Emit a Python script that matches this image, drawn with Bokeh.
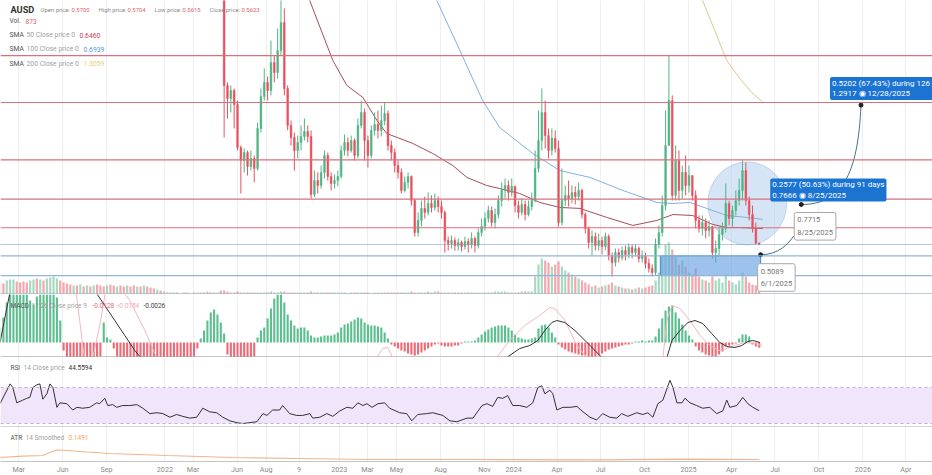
import pandas as pd
from bokeh.plotting import figure
from bokeh.layouts import column
from bokeh.models import (Range1d, FixedTicker, Span, Label, Grid, BoxAnnotation,
                          LinearAxis, CustomJSTickFormatter)
from bokeh.embed import file_html
from bokeh.resources import INLINE

FONT = "Roboto"

# ---------------------------------------------------------------- data
first_week = "2022-05-05"          # first weekly candle inside the visible price range
first_open = 2.40
closes = [1.394,1.326,1.368,1.294,1.070,1.002,1.043,0.970,1.012,0.960,
          1.169,1.336,1.410,1.368,1.514,1.462,1.577,1.723,1.378,1.185,
          1.122,1.054,1.096,1.127,1.153,1.127,0.824,0.897,0.871,0.939,
          1.028,0.918,0.881,0.897,0.918,1.054,1.096,1.054,1.106,1.028,
          1.185,1.253,1.106,1.028,1.159,1.190,1.159,1.211,1.247,1.080,
          1.043,0.975,0.939,0.845,0.887,0.918,0.792,0.625,0.688,0.751,
          0.730,0.777,0.756,0.792,0.761,0.730,0.583,0.568,0.583,0.557,
          0.573,0.552,0.578,0.562,0.594,0.557,0.625,0.656,0.698,0.740,
          0.677,0.719,0.792,0.845,0.871,0.834,0.866,0.766,0.730,0.772,
          0.719,0.761,0.792,0.960,1.106,1.253,1.132,1.054,1.117,1.064,
          0.677,0.792,0.819,0.803,0.834,0.813,0.845,0.719,0.646,0.573,
          0.604,0.557,0.583,0.552,0.604,0.505,0.468,0.520,0.494,0.531,
          0.510,0.547,0.520,0.541,0.489,0.505,0.463,0.437,0.416,0.562,
          0.625,0.766,1.080,1.315,0.819,1.002,0.845,0.939,0.871,0.923,
          0.819,0.688,0.646,0.677,0.636,0.656,0.520,0.541,0.615,0.646,
          0.777,0.698,0.740,0.792,0.845,0.949,0.792,0.719,0.646,0.570,
          0.5623]
highs = [2.55,1.410,1.394,1.378,1.315,1.080,1.064,1.054,1.054,1.028,
         1.200,1.378,1.483,1.441,1.629,1.551,1.692,1.865,1.797,1.394,
         1.211,1.148,1.132,1.185,1.221,1.185,1.159,0.949,0.939,0.975,
         1.054,1.043,0.939,0.928,0.949,1.080,1.138,1.122,1.132,1.117,
         1.221,1.315,1.274,1.132,1.185,1.253,1.263,1.289,1.305,1.263,
         1.106,1.064,1.002,0.960,0.918,0.939,0.923,0.803,0.730,0.792,
         0.813,0.834,0.819,0.829,0.813,0.792,0.740,0.604,0.609,0.599,
         0.594,0.583,0.604,0.594,0.625,0.604,0.646,0.698,0.730,0.766,
         0.761,0.751,0.819,0.887,0.907,0.897,0.907,0.871,0.792,0.803,
         0.792,0.792,0.834,1.054,1.263,1.378,1.315,1.169,1.169,1.159,
         1.106,0.960,0.871,0.897,0.871,0.866,0.887,0.855,0.730,0.656,
         0.636,0.625,0.620,0.604,0.625,0.615,0.520,0.541,0.541,0.552,
         0.557,0.568,0.562,0.562,0.552,0.531,0.520,0.489,0.458,0.594,
         0.662,0.819,1.263,1.551,1.342,1.080,1.054,0.975,1.028,0.975,
         0.923,0.845,0.714,0.714,0.698,0.688,0.660,0.583,0.646,0.677,
         0.881,0.792,0.766,0.845,0.907,1.002,0.991,0.813,0.766,0.677,
         0.5704]
lows = [1.122,1.221,1.253,1.169,1.054,0.829,0.939,0.923,0.949,0.887,
        0.949,1.148,1.315,1.315,1.342,1.410,1.430,1.551,1.342,1.159,
        1.080,0.949,1.012,1.054,1.106,1.096,0.803,0.810,0.829,0.855,
        0.907,0.897,0.845,0.855,0.866,0.907,1.028,1.023,1.043,1.002,
        1.012,1.169,1.002,0.965,1.012,1.132,1.117,1.127,1.185,1.054,
        1.002,0.939,0.907,0.829,0.834,0.855,0.766,0.604,0.604,0.656,
        0.698,0.714,0.730,0.740,0.730,0.698,0.520,0.531,0.541,0.531,
        0.531,0.526,0.536,0.520,0.541,0.520,0.541,0.604,0.636,0.677,
        0.656,0.646,0.698,0.761,0.803,0.792,0.813,0.730,0.698,0.714,
        0.688,0.709,0.740,0.782,0.939,1.054,1.064,1.012,1.028,1.043,
        0.656,0.662,0.766,0.761,0.777,0.772,0.792,0.698,0.620,0.541,
        0.505,0.531,0.531,0.510,0.531,0.479,0.395,0.447,0.468,0.479,
        0.479,0.489,0.489,0.499,0.468,0.468,0.437,0.416,0.395,0.400,
        0.541,0.604,0.740,1.080,0.792,0.792,0.792,0.803,0.819,0.834,
        0.792,0.646,0.625,0.609,0.594,0.604,0.489,0.468,0.505,0.583,
        0.625,0.662,0.656,0.714,0.766,0.792,0.766,0.688,0.625,0.562,
        0.5615]

vol_start = "2021-01-21"           # first weekly bar of volume / indicators
vol_pre = [1200,1100,1400,1500,1500,1300,1200,1300,1200,1400,1500,1600,1500,1400,1600,1700,1800,1600,
           1400,1200,1100,1000,900,900,1000,800,900,800,900,1000,
           900,800,900,1000,900,800,900,800,900,800,900,800,800,900,800,700,600,500,400,
           300,200,200,200,200,100,200,200,100,200,200,200,200,300,200,200,200,400]
vol_pre_up = [0,0,1,1,1,0,0,0,0,1,1,0,1,0,1,1,1,1,
              0,0,0,0,1,0,1,0,1,0,1,0,
              0,0,1,0,0,1,0,0,1,0,0,1,0,1,0,0,0,1,0,
              1,0,0,1,0,1,0,0,1,0,1,0,0,1,0,0,1,0]
volumes = [400,300,200,200,300,200,200,200,200,200,200,
           200,200,200,300,200,200,300,300,200,200,200,200,200,200,200,300,200,200,200,200,
           200,200,200,200,200,200,100,200,200,200,200,200,200,100,200,200,200,200,200,200,
           200,200,200,200,200,300,200,200,200,200,
           300,200,300,300,200,200,200,200,200,200,
           200,200,200,200,200,200,200,200,200,200,
           300,300,300,300,200,200,200,200,300,300,
           300,300,
           1800,3000,3600,3400,3200,2800,3000,3300,2800,2400,2200,2000,1800,1600,1400,1200,1000,800,900,700,
           800,900,1000,1200,900,800,700,600,600,500,600,700,600,700,800,900,1400,2200,3800,5000,
           5200,4500,3800,3000,3400,2800,2200,2000,2600,1800,1500,1400,1200,1800,1400,1600,1200,2000,1400,1200,
           1000,1400,2200,1800,1200,1000,900,873]

macd_hist = [0.0075,0.0125,0.020,0.024,0.025,0.025,0.025,0.025,0.025,0.021,0.019,0.023,
             0.025,0.025,0.025,0.025,0.025,0.0225,0.011,-0.004,-0.008,
             -0.010,-0.010,-0.010,-0.010,-0.010,-0.010,-0.010,-0.010,-0.010,-0.007,
             0.010,0.0025,0.0015,-0.003,-0.007,
             -0.010,-0.010,-0.010,-0.010,-0.010,-0.010,-0.010,-0.010,-0.010,-0.010,-0.010,
             -0.010,-0.010,-0.010,-0.010,-0.010,-0.010,-0.010,-0.010,-0.010,-0.010,-0.010,
             -0.007,-0.003,
             0.002,0.006,0.011,0.015,0.0165,0.014,0.010,0.0045,
             -0.006,-0.010,-0.010,-0.010,-0.010,-0.010,-0.010,-0.010,-0.007,
             0.0025,0.006,
             0.0075,0.012,0.017,0.022,0.025,0.025,0.020,0.014,0.011,0.0085,0.007,
             0.0075,0.0075,0.006,
             0.0035,0.0025,0.0025,0.003,0.0035,0.0035,0.0035,0.004,
             0.005,0.0075,0.009,0.0095,0.0105,0.0115,0.0125,0.012,0.010,0.009,0.0085,0.0085,0.008,0.0075,0.005,0.002,
             -0.001,-0.002,-0.003,-0.004,-0.0045,-0.0055,-0.006,-0.0065,-0.006,-0.005,-0.004,-0.003,-0.002,-0.001,
             -0.0005,-0.0015,-0.002,-0.002,-0.002,-0.0015,-0.0015,-0.0005,
             0.0005,0.0005,0.0005,0.001,
             0.0025,0.004,0.0055,0.0065,0.0075,0.008,0.0085,0.0085,0.0085,0.0075,0.006,0.004,0.0025,
             0.002,0.0015,0.0015,0.002,0.0025,
             0.007,0.0085,0.009,0.0075,0.005,0.0025,
             -0.001,-0.0025,-0.0035,-0.0045,-0.005,-0.0055,-0.006,-0.0065,-0.0065,-0.007,-0.0075,-0.007,
             -0.0065,-0.0055,-0.0045,-0.0035,-0.003,-0.0025,-0.002,-0.0015,-0.001,-0.001,-0.0005,
             0.0005,0.0005,0.001,0.0005,0.001,0.001,
             0.003,0.007,0.012,0.016,0.018,0.0185,0.015,0.012,0.009,0.006,0.0035,0.0015,
             -0.002,-0.004,-0.005,-0.006,-0.0065,-0.007,-0.007,-0.006,-0.0045,
             -0.002,-0.0015,-0.001,-0.0005,
             0.002,0.004,0.004,0.003,
             -0.001,-0.002,-0.0026]

# series sampled at week offsets counted from vol_start
macd_w = [0,1.4,2.9,5.9,14.9,23.8,28.9,31.3,34.3,37.3,40.3,43.3,59.7,89.6,125.5,143.5,151.5,155.4,
          158.4,160.8,162.9,165,166.5,168.9,171.9,174.9,177.9,180.2,188.3,195.8,199.4,200.9,203.3,
          205.7,207.8,210.1,212.8,215.2,217.3,219.7,221.8,223.6,225.1,227.2]
macd_v = [0,0.012,0.0245,0.041,0.056,0.041,0.0245,0.0185,0.011,0.0035,-0.004,-0.010,-0.024,-0.039,
          -0.029,-0.019,-0.0075,-0.003,-0.0015,0.001,0.006,0.010,0.011,0.010,0.006,0.001,-0.004,-0.008,
          -0.0165,-0.014,-0.0075,0.001,0.006,0.010,0.011,0.0095,0.0045,0,-0.002,-0.0025,-0.0015,0.0005,
          0.001,0]
signal_w = [17.9,22.3,23.8,25.3,27.4,29.8,31.6,34.3,38.8,43.3,47.8,74.7,110.6,112.6,114.4,115.9,117.4,
            122.5,140.5,148.5,152.4,156.9,161.4,164.4,165.9,168.9,172.5,175.4,185.3,194.3,198.2,199.4,
            200.9,203.3,206.3,209.3,212.2,215.2,217.3,219.7,222.7,225.7,227.8]
signal_v = [0.046,0.031,0.011,-0.009,-0.010,0.0085,0.026,0.031,0.021,0.006,-0.0115,-0.029,-0.014,
            -0.0075,-0.003,-0.0025,-0.0075,-0.0165,-0.0165,-0.0075,0.001,0.0085,0.0135,0.0175,0.017,
            0.011,-0.0015,-0.0075,-0.019,-0.015,-0.0075,0.011,0.0185,0.017,0.011,0.0035,-0.0015,-0.004,
            -0.003,-0.0015,0,-0.0005,-0.0015]

rsi_w = [0,3,3.8,5,6.8,8,8.9,9.8,11,11.9,12.8,14,14.9,15.8,17,17.9,20,21.7,23,24.7,26.8,28.9,29.8,
         31.3,32.2,33.7,34.9,36.7,38.8,40.9,42.7,44.8,46.9,48.7,50.8,52.8,54.6,56.7,58.8,60.6,62.7,
         64.8,66.6,68.7,70.8,72.6,74.7,76.8,78.6,79.8,81.5,83.6,84.5,86.6,88.7,90.5,92.6,93.5,95.6,
         97.7,99.5,101.6,103.7,105.5,107,108.5,109.7,111.2,113,115,116.5,119.5,121.6,123.1,124.9,
         127.6,129.4,132.4,134.5,136.6,139.6,141.4,144.1,145.6,147.3,148.8,150.3,151.8,153.3,155.4,
         157.5,159.3,160.8,162,162.9,164.4,165.3,166.5,168.3,170.4,172.5,174.3,176.4,178.4,180.2,
         182.3,184.4,185.9,187.7,190.4,192.2,193.7,195.2,196.7,198.2,200.3,201.2,202.4,203.9,204.8,
         206.3,208.3,210.1,212.2,214.3,216.1,217.3,218.2,220.3,222.1,223.6,225.1,226.6,227]
rsi_v = [52,74,70,53,56,58,59,70,73,74,57,63,74,70,48,53,52,45,48,47,48,53,52,58,50,51,48,50,50,51,
         47,41,42,41,37,40,38,36,37,47,43,42,37,33,31,30,31,32,41,39,45,45,50,41,39,39,41,36,37,41,
         38,44,48,47,53,50,52,48,52,53,47,42,41,33,40,41,42,39,33,32,36,36,50,52,49,59,58,61,50,50,
         48,53,70,72,63,67,63,45,48,48,49,43,37,34,41,37,36,41,38,42,40,42,37,52,56,78,70,53,53,58,
         53,50,47,48,41,44,56,48,50,59,52,48,45,44.56]

atr_w = [0,6.8,12.8,14.9,17,20,26,32.8,49.9,69.6,89.6,109.7,139.6,179.3,203.3,227]
atr_v = [0.298,0.40,0.447,0.67,0.857,0.82,0.708,0.596,0.447,0.298,0.224,0.149,0.149,0.127,0.171,0.1491]

sma50_w = [89.6,92.6,99.5,103.7,108.5,112.7,115.6,123.4,129.4,135.4,139.6,145.5,149.4,155.4,161.4,
           167.4,173.4,181.4,189.2,196.4,201.2,207.1,213.1,217.3,221.2,228.1]
sma50_v = [1.943,1.838,1.525,1.394,1.331,1.211,1.143,1.091,1.038,0.975,0.913,0.871,0.855,0.829,0.782,
           0.756,0.751,0.704,0.662,0.688,0.719,0.714,0.667,0.651,0.651,0.646]
sma100_w = [127,130.6,137.5,144.3,149.4,159.3,167.4,176.4,186.2,196.4,201.2,206.3,211.3,217.3,223.3,228.1]
sma100_v = [1.943,1.838,1.577,1.315,1.174,1.038,0.949,0.913,0.845,0.782,0.777,0.782,0.751,0.714,0.704,0.6939]
sma200_w = [206.3,210.1,213.7,217.3,221.2,224.8,228.1]
sma200_v = [1.943,1.838,1.681,1.525,1.430,1.357,1.3059]

red_levels = [1.55, 1.305, 1.005, 0.80, 0.65]
blue_levels = [0.503, 0.40]
last_close = 0.5623

zone = dict(start="2024-11-03", end="2025-06-01", low=0.40, high=0.503)
focus = dict(center="2025-05-04", price=0.777, days=165, height=0.434)

fc_dates = ["2025-06-01", "2025-08-25", "2025-12-28"]
fc_prices = [0.5089, 0.7715, 1.2917]

tick_dates = ["2021-03-01","2021-06-01","2021-09-01","2022-01-01","2022-03-01","2022-06-01",
              "2022-08-01","2022-10-09","2023-01-01","2023-03-01","2023-05-01","2023-08-01",
              "2023-11-01","2024-01-01","2024-04-01","2024-07-01","2024-10-01","2025-01-01",
              "2025-04-01","2025-07-01","2025-10-01","2026-01-01","2026-04-01"]
tick_labels = ["Mar","Jun","Sep","2022","Mar","Jun","Aug","9","2023","Mar","May","Aug","Nov",
               "2024","Apr","Jul","Oct","2025","Apr","Jul","Oct","2026","Apr"]

# ---------------------------------------------------------------- helpers
DAY = 86400000
WEEK = 7 * DAY


def ms(s):
    return int(pd.Timestamp(s).value // 10**6)


v0 = ms(vol_start)


def wk(ws):
    return [v0 + w * WEEK for w in ws]


GREEN = "#4fb585"
RED = "#e9505e"
W = 932
PRICE_LO, PRICE_HI = 0.3008, 1.8384

xr = Range1d(ms("2021-01-21 22:00"), ms("2026-05-26 17:00"))
tick_ms = [ms(d) for d in tick_dates]


def make_fig(h, yr):
    p = figure(frame_width=W, frame_height=h, x_range=xr, y_range=yr,
               x_axis_type=None, y_axis_type=None, toolbar_location=None,
               output_backend="svg", min_border=0, outline_line_color=None,
               background_fill_color="white", border_fill_color="white")
    p.add_layout(Grid(dimension=0, ticker=FixedTicker(ticks=tick_ms),
                      grid_line_color="#eeeeee", grid_line_width=1))
    return p


def lab(p, text, x, y, size, color, bold=False):
    p.add_layout(Label(x=x, y=y, x_units="screen", y_units="screen", text=text,
                       text_font=FONT, text_font_size=f"{size}px", text_color=color,
                       text_baseline="middle", text_align="left",
                       text_font_style="bold" if bold else "normal"))


# ---------------------------------------------------------------- main pane
H1 = 294
p1 = make_fig(H1, Range1d(PRICE_LO, PRICE_HI))
p1.extra_y_ranges = {"vol": Range1d(0, 29400)}

cand_t = [ms(first_week) + WEEK * i for i in range(len(closes))]
opens = [first_open] + closes[:-1]
up = [c >= o for o, c in zip(opens, closes)]
hi = [max(h, o, c) for h, o, c in zip(highs, opens, closes)]
lo = [min(l, o, c) for l, o, c in zip(lows, opens, closes)]

vol_t = [v0 + WEEK * k for k in range(len(vol_pre))] + cand_t
vol_all = vol_pre + volumes
vol_up = [bool(u) for u in vol_pre_up] + up
n = min(len(vol_t), len(vol_all), len(vol_up))
p1.vbar(x=vol_t[:n], top=vol_all[:n], bottom=0, width=4.6 * DAY,
        fill_color=[GREEN if u else RED for u in vol_up[:n]], fill_alpha=0.5,
        line_color=None, y_range_name="vol")

# focus circle
p1.ellipse(x=[ms(focus["center"])], y=[focus["price"]], width=[focus["days"] * DAY],
           height=[focus["height"]], fill_color="#b9d3ef", fill_alpha=0.6,
           line_color="#a8c6ea", line_alpha=0.7)

# moving averages
p1.line(wk(sma200_w), sma200_v, line_color="#d9c88e", line_width=1)
p1.line(wk(sma100_w), sma100_v, line_color="#7fb1de", line_width=1)
p1.line(wk(sma50_w), sma50_v, line_color="#a34e5a", line_width=1)

cols = [GREEN if u else RED for u in up]
p1.segment(x0=cand_t, y0=hi, x1=cand_t, y1=lo, line_color=cols, line_width=1)
p1.vbar(x=cand_t, top=[max(o, c) for o, c in zip(opens, closes)],
        bottom=[min(o, c) for o, c in zip(opens, closes)], width=3.6 * DAY,
        fill_color=cols, line_color=cols, line_width=0.5)

# levels
for lv in red_levels:
    p1.add_layout(Span(location=lv, dimension="width", line_color="#d9707c", line_width=1.2))
for lv in blue_levels:
    p1.add_layout(Span(location=lv, dimension="width", line_color="#8db6d8", line_width=1.2))
p1.add_layout(Span(location=last_close, dimension="width", line_color="#6f8fb8",
                   line_width=1.2, line_dash="1 1"))

# zone rectangle
p1.quad(left=[ms(zone["start"])], right=[ms(zone["end"])], bottom=[zone["low"]], top=[zone["high"]],
        fill_color="#5b9be0", fill_alpha=0.6, line_color="#3c84d2", line_width=1)

# forecast connectors
fx = [ms(d) for d in fc_dates]
fy = fc_prices
c1x1, c1y1 = fx[1] - 16 * DAY, fy[1] - 0.165
p1.bezier(x0=[fx[0]], y0=[fy[0]], x1=[c1x1], y1=[c1y1],
          cx0=[fx[0] + 0.55 * (c1x1 - fx[0])], cy0=[fy[0]],
          cx1=[c1x1 - 0.15 * (c1x1 - fx[0])], cy1=[fy[0] + 0.6 * (c1y1 - fy[0])],
          line_color="#46708a", line_width=1)
p1.bezier(x0=[fx[1]], y0=[fy[1]], x1=[fx[2]], y1=[fy[2]],
          cx0=[fx[1] + 0.68 * (fx[2] - fx[1])], cy0=[fy[1]],
          cx1=[fx[2] - 0.05 * (fx[2] - fx[1])], cy1=[fy[1] + 0.3 * (fy[2] - fy[1])],
          line_color="#46708a", line_width=1)
p1.scatter(x=fx, y=fy, size=4, fill_color="#1e1e1e", line_color="#1e1e1e")

# forecast labels
blue_box = dict(text_font=FONT, text_align="left", text_baseline="top", padding=2,
                border_radius=2, text_line_height=1.12, text_color="white",
                text_font_size="8px", background_fill_color="#1b74d2")
gray_box = dict(text_font=FONT, text_align="left", text_baseline="top", padding=3,
                border_radius=2, text_line_height=1.4, text_color="#777777",
                text_font_size="7.5px", background_fill_color="white",
                border_line_color="#a8a8a8")
p1.add_layout(Label(x=fx[1], y=fy[1], x_offset=-31, y_offset=26,
                    text="0.2577 (50.63%) during 91 days\n0.7666 \u25c9 8/25/2025", **blue_box))
p1.add_layout(Label(x=fx[2], y=fy[2], x_offset=-31, y_offset=28,
                    text="0.5202 (67.43%) during 126 days\n1.2917 \u25c9 12/28/2025", **blue_box))
p1.add_layout(Label(x=fx[1], y=fy[1], x_offset=-7, y_offset=-8,
                    text="0.7715\n8/25/2025", **gray_box))
p1.add_layout(Label(x=fx[0], y=fy[0], x_offset=-3, y_offset=-9,
                    text="0.5089\n6/1/2025", **gray_box))

# pane separator
p1.add_layout(Span(location=PRICE_LO + 0.003, dimension="width", line_color="#a9b8c7", line_width=1.5))

# header
GRAY = "#a0a0a0"
DARK = "#555555"
VAL = "#e0606c"
lab(p1, "AUSD", 10, H1 - 9, 9.2, "#333333", bold=True)
for name, val, x1, x2 in [("Open price:", "0.5700", 40, 71), ("High price:", "0.5704", 98, 127),
                          ("Low price:", "0.5615", 154, 182), ("Close price:", "0.5623", 209, 241)]:
    lab(p1, name, x1, H1 - 9.2, 5.9, "#8a8a8a")
    lab(p1, val, x2, H1 - 9.2, 5.9, VAL)
lab(p1, "Vol.", 9, H1 - 20.5, 6.6, DARK)
lab(p1, "873", 25, H1 - 20.5, 6.6, VAL)
for i, (per, val, vcol) in enumerate([("50", "0.6460", "#c94050"), ("100", "0.6939", "#5a9bd8"),
                                       ("200", "1.3059", "#e6cf6e")]):
    yy = H1 - (34.5 + 14.3 * i)
    lab(p1, "SMA", 9, yy, 6.8, DARK)
    lab(p1, f"{per} Close price 0", 26, yy, 6.8, GRAY)
    lab(p1, val, 79 if per == "50" else 83, yy, 6.8, vcol)

# ---------------------------------------------------------------- MACD pane
H2 = 63
p2 = make_fig(H2, Range1d(-0.0075, 0.024))
mt = [v0 + WEEK * k for k in range(len(macd_hist))]
p2.vbar(x=mt, top=macd_hist, bottom=0, width=4.4 * DAY,
        fill_color=["#5cbf8f" if v >= 0 else "#ec6b77" for v in macd_hist], line_color=None)
p2.line(wk(signal_w), signal_v, line_color="#f0b7bf", line_width=1)
p2.line(wk(macd_w), macd_v, line_color="#333333", line_width=1)
p2.add_layout(Span(location=-0.0075 + 0.0003, dimension="width", line_color="#a0a0a0", line_width=1))
lab(p2, "MACD", 10, H2 - 11, 6.5, DARK)
lab(p2, "12 26 Close price 9", 31, H2 - 11, 6.5, GRAY)
lab(p2, "-0.0128", 92, H2 - 11, 6.5, "#e06a78")
lab(p2, "-0.0154", 117, H2 - 11, 6.5, "#f2a9b1")
lab(p2, "-0.0026", 143, H2 - 11, 6.5, "#444444")

# ---------------------------------------------------------------- RSI pane
H3 = 70
p3 = make_fig(H3, Range1d(25.6, 103.3))
p3.add_layout(BoxAnnotation(bottom=30, top=70, fill_color="#f1e5fb", fill_alpha=1.0,
                            line_color=None, level="underlay"))
for lv in (30, 70):
    p3.add_layout(Span(location=lv, dimension="width", line_color="#bfb0cf",
                       line_width=1, line_dash="3 3"))
p3.line(wk(rsi_w), rsi_v, line_color="#333333", line_width=1)
p3.add_layout(Span(location=25.6 + 0.6, dimension="width", line_color="#b0b0b0", line_width=1))
lab(p3, "RSI", 10, H3 - 10, 6.5, DARK)
lab(p3, "14 Close price", 23, H3 - 10, 6.5, GRAY)
lab(p3, "44.5594", 68, H3 - 10, 6.5, "#333333")

# ---------------------------------------------------------------- ATR pane + time axis
H4 = 34
p4 = make_fig(H4, Range1d(0, 2.533))
p4.line(wk(atr_w), atr_v, line_color="#f2b48c", line_width=1.2)
lab(p4, "ATR", 10, H4 - 10, 6.5, DARK)
lab(p4, "14 Smoothed", 25, H4 - 10, 6.5, GRAY)
lab(p4, "0.1491", 68, H4 - 10, 6.5, "#f0a060")

ax = LinearAxis(ticker=FixedTicker(ticks=tick_ms),
                formatter=CustomJSTickFormatter(args=dict(tk_vals=tick_ms, tk_labs=tick_labels),
                                                code="const i = tk_vals.indexOf(tick); return i >= 0 ? tk_labs[i] : '';"))
ax.major_label_text_font = FONT
ax.major_label_text_font_size = "7.2px"
ax.major_label_text_color = "#8a8a8a"
ax.major_tick_out = 0
ax.major_tick_in = 0
ax.minor_tick_line_color = None
ax.axis_line_color = "#c4c4c4"
ax.major_label_standoff = 3
p4.add_layout(ax, "below")

layout = column(p1, p2, p3, p4, spacing=0)
open("out.html", "w").write(file_html(layout, INLINE))
